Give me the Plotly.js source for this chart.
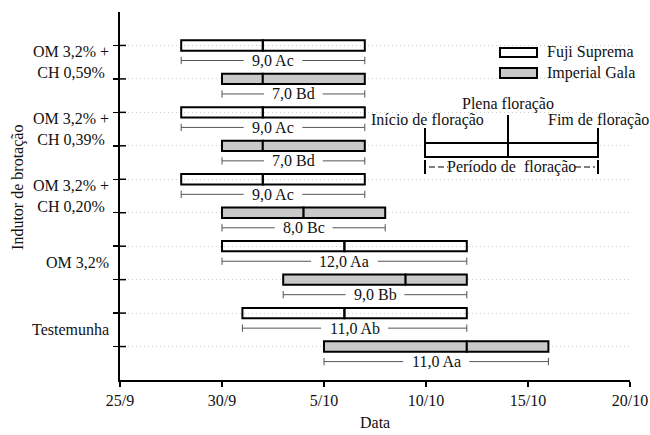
<!DOCTYPE html>
<html>
<head>
<meta charset="utf-8">
<script src="https://cdn.plot.ly/plotly-3.0.1.min.js"></script>
<style>html,body{margin:0;padding:0;background:#fff}#chart{width:650px;height:435px}</style>
</head>
<body>
<div id="chart"></div>
<script>
// ---- data ----
const treatments = ['OM 3,2% +<br>CH 0,59%', 'OM 3,2% +<br>CH 0,39%', 'OM 3,2% +<br>CH 0,20%', 'OM 3,2%', 'Testemunha'];
const cultivars = ['Fuji Suprema', 'Imperial Gala'];
const fujiInicio = ['28/9', '28/9', '28/9', '30/9', '1/10'];
const fujiPlena  = ['2/10', '2/10', '2/10', '6/10', '6/10'];
const fujiFim    = ['7/10', '7/10', '7/10', '12/10', '12/10'];
const fujiLabel  = ['9,0 Ac', '9,0 Ac', '9,0 Ac', '12,0 Aa', '11,0 Ab'];
const galaInicio = ['30/9', '30/9', '30/9', '3/10', '5/10'];
const galaPlena  = ['2/10', '2/10', '4/10', '9/10', '12/10'];
const galaFim    = ['7/10', '7/10', '8/10', '12/10', '16/10'];
const galaLabel  = ['7,0 Bd', '7,0 Bd', '8,0 Bc', '9,0 Bb', '11,0 Aa'];
const xTickLabels = ['25/9', '30/9', '5/10', '10/10', '15/10', '20/10'];

// ---- helpers ----
const dayIndex = s => { const [d, m] = s.split('/').map(Number); return m === 9 ? d - 25 : d + 5; };
const n = treatments.length;
const fujiY = treatments.map((_, i) => 2 * n - 2 * i);
const galaY = treatments.map((_, i) => 2 * n - 1 - 2 * i);

const series = [
  {name: cultivars[0], y: fujiY, a: fujiInicio.map(dayIndex), b: fujiPlena.map(dayIndex), c: fujiFim.map(dayIndex), lab: fujiLabel, fill: 'rgba(255,255,255,0)'},
  {name: cultivars[1], y: galaY, a: galaInicio.map(dayIndex), b: galaPlena.map(dayIndex), c: galaFim.map(dayIndex), lab: galaLabel, fill: '#c9c9c9'}
];

const FS = 16;
const TXT = '#111';
const FONT = '"Liberation Serif", "Times New Roman", serif';
const ctx = document.createElement('canvas').getContext('2d');
ctx.font = FS + 'px ' + FONT;
const textW = t => ctx.measureText(t).width;
const PX_PER_DAY = 510 / 25;

const BW = 0.31;
const traces = [];
series.forEach(s => {
  traces.push({type: 'bar', orientation: 'h', name: s.name, y: s.y, base: s.a, x: s.a.map((v, i) => s.b[i] - v),
    width: BW, marker: {color: s.fill, line: {color: '#000', width: 2}}, hoverinfo: 'skip'});
  traces.push({type: 'bar', orientation: 'h', name: s.name, y: s.y, base: s.b, x: s.b.map((v, i) => s.c[i] - v),
    width: BW, marker: {color: s.fill, line: {color: '#000', width: 2}}, hoverinfo: 'skip'});
});

const shapes = [];
const annotations = [];
const DOFF = 0.45, TK = 0.11;
const dimColor = '#555';
series.forEach(s => {
  s.y.forEach((yy, i) => {
    const yl = yy - DOFF;
    const mid = (s.a[i] + s.c[i]) / 2;
    const half = (textW(s.lab[i]) / 2 + 8) / PX_PER_DAY;
    shapes.push({type: 'line', xref: 'x', yref: 'y', x0: s.a[i], x1: mid - half, y0: yl, y1: yl, line: {color: dimColor, width: 1}});
    shapes.push({type: 'line', xref: 'x', yref: 'y', x0: mid + half, x1: s.c[i], y0: yl, y1: yl, line: {color: dimColor, width: 1}});
    shapes.push({type: 'line', xref: 'x', yref: 'y', x0: s.a[i], x1: s.a[i], y0: yl - TK, y1: yl + TK, line: {color: dimColor, width: 1}});
    shapes.push({type: 'line', xref: 'x', yref: 'y', x0: s.c[i], x1: s.c[i], y0: yl - TK, y1: yl + TK, line: {color: dimColor, width: 1}});
    annotations.push({xref: 'x', yref: 'y', x: mid, y: yl, xanchor: 'center', yanchor: 'middle',
      text: s.lab[i], showarrow: false, font: {size: FS, color: TXT}});
  });
});

// inner half of y ticks (crossing the axis)
for (let k = 1; k <= 2 * n; k++) {
  shapes.push({type: 'line', xref: 'paper', yref: 'y', x0: 0, x1: 6 / 510, y0: k, y1: k, line: {color: '#000', width: 1.5}});
}

// treatment labels
treatments.forEach((t, i) => {
  annotations.push({xref: 'paper', yref: 'y', x: 0, y: (fujiY[i] + galaY[i]) / 2, xanchor: 'right', yanchor: 'middle', xshift: -9,
    text: t, showarrow: false, align: 'center', font: {size: FS, color: TXT}});
});

// axis titles
annotations.push({xref: 'paper', yref: 'paper', x: 0, y: 0.522, xshift: -102, xanchor: 'center', yanchor: 'middle',
  text: 'Indutor de brotação', textangle: -90, showarrow: false, font: {size: FS, color: TXT}});
annotations.push({xref: 'paper', yref: 'paper', x: 0.5, y: 0, yshift: -42, xanchor: 'center', yanchor: 'middle',
  text: 'Data', showarrow: false, font: {size: FS, color: TXT}});

// pixel -> paper helpers for legend & explanatory diagram
const px = v => (v - 120) / 510;
const py = v => (380 - v) / 368;
const note = (x, y, text, xa) => annotations.push({xref: 'paper', yref: 'paper', x: px(x), y: py(y), xanchor: xa || 'center',
  yanchor: 'middle', text: text, showarrow: false, font: {size: FS, color: TXT}});

// legend
[[48, 57, '#fff', cultivars[0], 52], [68, 78, '#c9c9c9', cultivars[1], 73]].forEach(r => {
  shapes.push({type: 'rect', xref: 'paper', yref: 'paper', x0: px(500), x1: px(537), y0: py(r[1]), y1: py(r[0]),
    fillcolor: r[2], line: {color: '#000', width: 2}});
  note(545, r[4], r[3], 'left');
});

// explanatory diagram
shapes.push({type: 'rect', xref: 'paper', yref: 'paper', x0: px(425), x1: px(508), y0: py(157), y1: py(143), fillcolor: '#fff', line: {color: '#000', width: 2}});
shapes.push({type: 'rect', xref: 'paper', yref: 'paper', x0: px(508), x1: px(598), y0: py(157), y1: py(143), fillcolor: '#fff', line: {color: '#000', width: 2}});
[[425, 128], [508, 115], [598, 128]].forEach(t => {
  shapes.push({type: 'line', xref: 'paper', yref: 'paper', x0: px(t[0]), x1: px(t[0]), y0: py(143), y1: py(t[1]), line: {color: '#000', width: 2}});
});
[425, 598].forEach(x => {
  shapes.push({type: 'line', xref: 'paper', yref: 'paper', x0: px(x), x1: px(x), y0: py(160), y1: py(174), line: {color: '#000', width: 2}});
});
shapes.push({type: 'line', xref: 'paper', yref: 'paper', x0: px(429), x1: px(448), y0: py(167), y1: py(167), line: {color: '#000', width: 1.2, dash: '6px,3px'}});
shapes.push({type: 'line', xref: 'paper', yref: 'paper', x0: px(575), x1: px(595), y0: py(167), y1: py(167), line: {color: '#000', width: 1.2, dash: '6px,3px'}});
note(511, 167, 'Período de  floração');
note(508, 104, 'Plena floração');
note(427, 120, 'Início de floração');
note(598, 120, 'Fim de floração');

const layout = {
  width: 650, height: 435,
  margin: {l: 120, r: 20, t: 12, b: 55, pad: 0},
  paper_bgcolor: '#fff', plot_bgcolor: '#fff',
  font: {family: FONT, size: FS, color: TXT},
  showlegend: false,
  barmode: 'overlay',
  xaxis: {range: [0, 25], tickvals: [0, 5, 10, 15, 20, 25], ticktext: xTickLabels, ticks: 'outside', ticklen: 5, tickwidth: 1.5,
    tickcolor: '#000', showline: true, linecolor: '#000', linewidth: 2, showgrid: false, zeroline: false, fixedrange: true,
    tickfont: {size: FS, color: TXT}, ticklabelstandoff: 0},
  yaxis: {range: [0, 11], tickvals: Array.from({length: 2 * n}, (_, k) => k + 1), showticklabels: false, ticks: 'outside', ticklen: 5,
    tickwidth: 1.5, tickcolor: '#000', showline: true, linecolor: '#000', linewidth: 2, showgrid: true, gridcolor: '#cfcfcf',
    griddash: '1px,3px', gridwidth: 1, zeroline: false, fixedrange: true},
  shapes: shapes,
  annotations: annotations
};

Plotly.newPlot('chart', traces, layout, {staticPlot: true, displayModeBar: false});
</script>
</body>
</html>
